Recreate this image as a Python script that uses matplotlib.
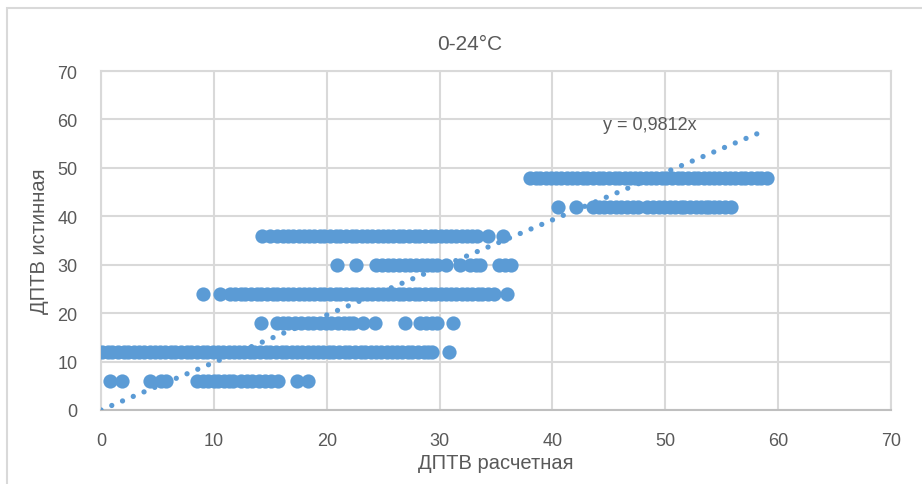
import matplotlib
matplotlib.use("Agg")
import matplotlib.pyplot as plt
from matplotlib.patches import Rectangle

plt.rcParams['font.family'] = ['Liberation Sans Narrow', 'Liberation Sans', 'DejaVu Sans']

# ДПТВ расчетная, grouped by ДПТВ истинная
x_6 = [0.8, 1.9, 4.3, 5.3, 5.8, 8.5, 9.0, 9.5, 10.0, 10.4, 10.9, 11.3, 11.7,
       12.4, 12.9, 13.4, 14.0, 14.5, 15.1, 15.7, 17.4, 18.3]
x_12 = [0.1, 0.6, 1.0, 1.5, 2.0, 2.4, 2.9, 3.4, 3.8, 4.3, 4.8, 5.2, 5.7, 6.2,
        6.6, 7.1, 7.6, 8.0, 8.5, 9.0, 9.4, 9.9, 10.4, 10.8, 11.3, 11.8, 12.2,
        12.7, 13.2, 13.6, 14.1, 14.6, 15.0, 15.5, 16.0, 16.4, 16.9, 17.4, 17.8,
        18.3, 18.8, 19.2, 19.7, 20.2, 20.6, 21.1, 21.6, 22.0, 22.5, 23.0, 23.4,
        23.9, 24.4, 24.8, 25.3, 25.8, 26.2, 26.7, 27.2, 27.6, 28.1, 28.6, 29.0,
        29.3, 30.8]
x_18 = [14.2, 15.6, 16.1, 16.6, 17.2, 17.7, 18.3, 18.8, 19.4, 19.9, 20.4, 21.0,
        21.5, 22.0, 22.3, 23.2, 24.3, 26.9, 28.3, 28.8, 29.3, 29.8, 31.2]
x_24 = [9.0, 10.5, 11.4, 11.9, 12.4, 12.8, 13.3, 13.8, 14.2, 14.7, 15.2, 15.6,
        16.1, 16.6, 17.0, 17.5, 18.0, 18.4, 18.9, 19.4, 19.8, 20.3, 20.8, 21.2,
        21.7, 22.2, 22.6, 23.1, 23.6, 24.0, 24.5, 25.0, 25.4, 25.9, 26.4, 26.8,
        27.3, 27.8, 28.2, 28.7, 29.2, 29.6, 30.1, 30.6, 31.0, 31.5, 32.0, 32.4,
        32.9, 33.4, 33.8, 34.3, 34.8, 36.0]
x_30 = [20.9, 22.6, 24.4, 24.9, 25.4, 25.9, 26.4, 26.9, 27.4, 27.9, 28.4, 28.9,
        29.3, 29.8, 30.6, 31.8, 32.7, 33.2, 33.6, 35.3, 35.8, 36.3]
x_36 = [14.3, 15.0, 15.6, 16.1, 16.6, 17.0, 17.5, 18.0, 18.4, 18.9, 19.4, 19.8,
        20.3, 20.8, 21.2, 21.7, 22.2, 22.6, 23.1, 23.6, 24.0, 24.5, 25.0, 25.4,
        25.9, 26.4, 26.8, 27.3, 27.8, 28.2, 28.7, 29.2, 29.6, 30.1, 30.6, 31.0,
        31.5, 32.0, 32.4, 32.9, 33.3, 34.3, 35.6]
x_42 = [40.5, 42.1, 43.6, 44.1, 44.6, 45.1, 45.6, 46.1, 46.6, 47.1, 47.6, 48.4,
        48.9, 49.4, 49.9, 50.4, 50.9, 51.4, 51.7, 52.2, 52.7, 53.2, 53.6, 53.9,
        54.3, 54.8, 55.3, 55.8]
x_48 = [38.0, 38.5, 38.9, 39.4, 39.9, 40.3, 40.8, 41.3, 41.7, 42.2, 42.7, 43.1,
        43.6, 44.1, 44.5, 45.0, 45.5, 45.9, 46.4, 46.9, 47.3, 47.8, 48.3, 48.7,
        49.2, 49.7, 50.1, 50.6, 51.1, 51.5, 52.0, 52.5, 52.9, 53.4, 53.9, 54.3,
        54.8, 55.3, 55.7, 56.2, 56.7, 57.1, 57.6, 58.1, 58.5, 59.0]

bands = {6: x_6, 12: x_12, 18: x_18, 24: x_24, 30: x_30, 36: x_36, 42: x_42, 48: x_48}

slope = 0.9812
trend_x = [0, 59.0]

blue = '#5B9BD5'
grey_txt = '#595959'
grid_c = '#D9D9D9'

fig = plt.figure(figsize=(9.22, 4.85), dpi=100)
fig.patches.append(Rectangle((7 / 922, -0.05), 1.1, (485 - 9) / 485 + 0.05,
                             transform=fig.transFigure, fill=False,
                             edgecolor=grid_c, linewidth=1.5, zorder=0))

ax = fig.add_axes([101 / 922, (485 - 411) / 485, 790 / 922, 339 / 485])

for yv, xs in bands.items():
    ax.scatter(xs, [yv] * len(xs), s=105, color=blue, linewidths=0, zorder=3)

# dotted linear trend through the origin
ax.plot(trend_x, [slope * v for v in trend_x], color=blue, linewidth=3.8,
        linestyle=(0, (0.01, 2.2)), dash_capstyle='round', zorder=4)
ax.text(48.6, 59.0, 'y = 0,9812x', color=grey_txt, fontsize=13,
        ha='center', va='center', zorder=5)

ax.set_xlim(0, 70)
ax.set_ylim(0, 70)
ax.set_xticks(range(0, 71, 10))
ax.set_yticks(range(0, 71, 10))
ax.grid(True, color=grid_c, linewidth=1.5, zorder=0)
ax.set_axisbelow(True)
for side in ['top', 'right', 'left']:
    ax.spines[side].set_color(grid_c)
    ax.spines[side].set_linewidth(1.5)
ax.spines['bottom'].set_color('#BFBFBF')
ax.spines['bottom'].set_linewidth(1.5)
ax.tick_params(length=0, labelsize=13, labelcolor=grey_txt)
ax.tick_params(axis='x', pad=16)
ax.tick_params(axis='y', pad=17)

ax.set_xlabel('ДПТВ расчетная', fontsize=14.5, color=grey_txt, labelpad=3)
ax.set_ylabel('ДПТВ истинная', fontsize=14.5, color=grey_txt, labelpad=6)
fig.text(470 / 922, 1 - 45 / 485, '0-24°C', fontsize=15, color=grey_txt,
         ha='center', va='center')

fig.savefig('out.png', dpi=100)
